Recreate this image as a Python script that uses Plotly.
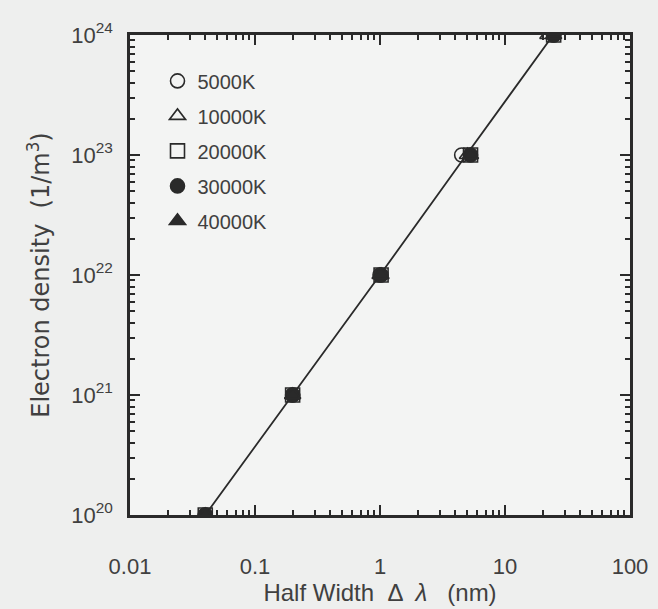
import plotly.graph_objects as go

density = [1e20, 1e21, 1e22, 1e23, 1e24]
x_5000 = [0.04, 0.2, 1.0, 4.5, 24.5]
x_10000 = [0.04, 0.2, 1.0, 5.0, 22.0]
x_20000 = [0.04, 0.2, 1.02, 5.3, 24.5]
x_30000 = [0.04, 0.2, 1.02, 5.3, 24.5]
x_40000 = [0.04, 0.2, 1.02, 5.3, 24.5]
fit_x = [0.04, 0.2, 1.0, 4.9, 24.3]

series = [
    ("5000K", x_5000, "circle-open"),
    ("10000K", x_10000, "triangle-up-open"),
    ("20000K", x_20000, "square-open"),
    ("30000K", x_30000, "circle"),
    ("40000K", x_40000, "triangle-up"),
]

x_tickvals = [0.01, 0.1, 1, 10, 100]
x_ticktext = ["0.01", "0.1", "1", "10", "100"]
y_tickvals = [1e20, 1e21, 1e22, 1e23, 1e24]
y_ticktext = ["10<sup>20</sup>", "10<sup>21</sup>", "10<sup>22</sup>", "10<sup>23</sup>", "10<sup>24</sup>"]

ink = "#2a2a2a"
txt = "#404040"
FONT = "Liberation Sans"

fig = go.Figure()
fig.add_trace(go.Scatter(x=fit_x, y=density, mode="lines",
                         line=dict(color=ink, width=1.8), showlegend=False, hoverinfo="skip"))
for i, (name, xs, sym) in enumerate(series):
    fig.add_trace(go.Scatter(
        x=xs, y=density, mode="markers", name=name, legendgroup=name,
        marker=dict(symbol=sym, size=14, color=ink, line=dict(color=ink, width=1.6)),
    ))

def minor_vals(lo, hi):
    vals = []
    for e in range(lo, hi):
        for m in range(2, 10):
            vals.append(m * 10.0 ** e)
    return vals

axis_common = dict(
    type="log", showgrid=False, zeroline=False, showline=True, linecolor=ink, linewidth=2.5,
    mirror="allticks", ticks="inside", ticklen=10, tickwidth=2, tickcolor=ink, automargin=False,
    tickfont=dict(family=FONT, size=22, color=txt),
)
fig.update_xaxes(**axis_common, range=[-2, 2], tickmode="array", tickvals=x_tickvals, ticktext=x_ticktext,
                 minor=dict(tickmode="array", tickvals=minor_vals(-2, 2), ticks="inside", ticklen=5,
                            tickwidth=1.5, tickcolor=ink, showgrid=False),
                 ticklabelstandoff=30,
                 title=dict(text="Half Width  Δ  <i>λ</i>   (nm)", standoff=3,
                            font=dict(family=FONT, size=24, color=txt)))
fig.update_yaxes(**axis_common, range=[20, 24], tickmode="array", tickvals=y_tickvals, ticktext=y_ticktext,
                 minor=dict(tickmode="array", tickvals=minor_vals(20, 24), ticks="inside", ticklen=5,
                            tickwidth=1.5, tickcolor=ink, showgrid=False),
                 ticklabelstandoff=10,
                 title=dict(text="Electron density  (1/m<sup>3</sup>)", standoff=15,
                            font=dict(family="DejaVu Sans", size=24, color=txt)))

fig.update_layout(
    width=658, height=609,
    margin=dict(l=130, r=28, t=35, b=94),
    paper_bgcolor="#eeefee", plot_bgcolor="#f3f4f3",
    legend=dict(x=0.055, y=0.945, xanchor="left", yanchor="top", bgcolor="rgba(0,0,0,0)",
                font=dict(family=FONT, size=20, color=txt),
                traceorder="grouped", tracegroupgap=6, itemwidth=30),
    showlegend=True,
)
fig.write_html("out.html", config={"displayModeBar": False},
               post_script="document.body.style.margin='0';")
